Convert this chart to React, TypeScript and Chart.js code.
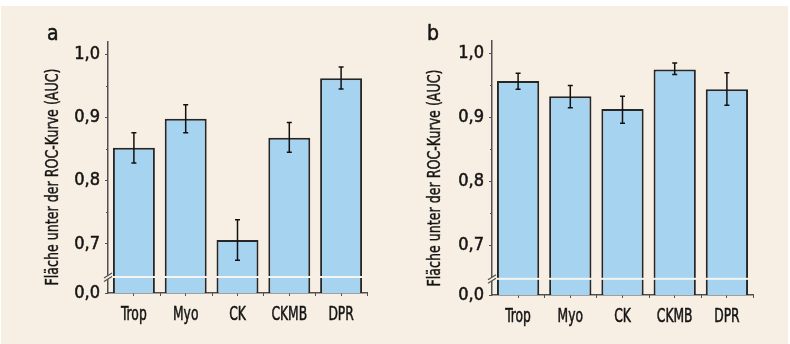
import React, { useEffect, useRef } from "react";
import { Chart, registerables } from "chart.js";

Chart.register(...registerables);

const categories = ["Trop", "Myo", "CK", "CKMB", "DPR"];
const aucA = [0.852, 0.898, 0.706, 0.868, 0.962];
const lowA = [0.828, 0.876, 0.674, 0.845, 0.945];
const highA = [0.876, 0.92, 0.738, 0.892, 0.98];
const aucB = [0.957, 0.933, 0.913, 0.975, 0.944];
const lowB = [0.944, 0.915, 0.891, 0.967, 0.919];
const highB = [0.969, 0.95, 0.933, 0.985, 0.97];
const majorTicks = [0.7, 0.8, 0.9, 1.0];
const minorTicks = [0.75, 0.85, 0.95];
const panelLetters = ["a", "b"];
const yTitle = "Fläche unter der ROC-Kurve (AUC)";
const zeroLabel = "0,0";

const Y_MIN = 0.6222;
const Y_MAX = 1.0195;
const BREAK_VALUE = 0.6475;

const BG = "#f8efe4";
const BAR = "#a6d3f0";
const INK = "#141414";
const AXIS = "#505050";
const FONT = '"DejaVu Sans Condensed", "Liberation Sans Narrow", sans-serif';

type Panel = {
  letter: string;
  values: number[];
  low: number[];
  high: number[];
  left: number;
  width: number;
  padTop: number;
  padRight: number;
  yWidth: number;
  xHeight: number;
  titleX: number;
  titleY: number;
  letterX: number;
  letterY: number;
};

const panels: Panel[] = [
  { letter: panelLetters[0], values: aucA, low: lowA, high: highA, left: 0, width: 395, padTop: 42, padRight: 28, yWidth: 108, xHeight: 51, titleX: 54, titleY: 177, letterX: 47, letterY: 40 },
  { letter: panelLetters[1], values: aucB, low: lowB, high: highB, left: 395, width: 395, padTop: 41, padRight: 37, yWidth: 97, xHeight: 49, titleX: 40.5, titleY: 178, letterX: 32, letterY: 40 },
];

const fmt = (v: number) => v.toFixed(1).replace(".", ",");

function heavyText(ctx: CanvasRenderingContext2D, t: string, x: number, y: number) {
  ctx.fillText(t, x, y);
  ctx.strokeText(t, x, y);
}

const overlay = {
  id: "overlay",
  afterDatasetsDraw(chart: any, _a: any, opts: any) {
    const ctx = chart.ctx as CanvasRenderingContext2D;
    const y = chart.scales.y;
    const meta = chart.getDatasetMeta(0);
    ctx.save();
    // axis-break gaps across bars
    const by = y.getPixelForValue(BREAK_VALUE);
    ctx.fillStyle = "#f4f4f0";
    meta.data.forEach((bar: any) => {
      const w = bar.width;
      ctx.fillRect(bar.x - w / 2 - 1, by - 1, w + 2, 2);
    });
    // error bars
    ctx.strokeStyle = "#111";
    ctx.lineWidth = 1.5;
    meta.data.forEach((bar: any, i: number) => {
      const yl = y.getPixelForValue(opts.low[i]);
      const yh = y.getPixelForValue(opts.high[i]);
      const x = bar.x;
      ctx.beginPath();
      ctx.moveTo(x, yl);
      ctx.lineTo(x, yh);
      ctx.moveTo(x - 2.5, yl);
      ctx.lineTo(x + 2.5, yl);
      ctx.moveTo(x - 2.5, yh);
      ctx.lineTo(x + 2.5, yh);
      ctx.stroke();
    });
    ctx.restore();
  },
  afterDraw(chart: any, _a: any, opts: any) {
    const ctx = chart.ctx as CanvasRenderingContext2D;
    const y = chart.scales.y;
    const xs = chart.scales.x;
    const area = chart.chartArea;
    ctx.save();
    // minor y ticks
    ctx.strokeStyle = AXIS;
    ctx.lineWidth = 1;
    minorTicks.forEach((v) => {
      const py = Math.round(y.getPixelForValue(v)) + 0.5;
      ctx.beginPath();
      ctx.moveTo(area.left - 2, py);
      ctx.lineTo(area.left, py);
      ctx.stroke();
    });
    // x ticks between categories
    const n = categories.length;
    for (let i = 0; i < n; i++) {
      const a = xs.getPixelForValue(i);
      const b = i < n - 1 ? xs.getPixelForValue(i + 1) : area.right + (area.right - a);
      const mx = Math.round((a + b) / 2) + 0.5;
      if (mx > area.right + 1) continue;
      ctx.beginPath();
      ctx.moveTo(mx, area.bottom);
      ctx.lineTo(mx, area.bottom + 3);
      ctx.stroke();
    }
    // x category labels (condensed)
    ctx.fillStyle = INK;
    ctx.strokeStyle = INK;
    ctx.lineWidth = 0.5;
    ctx.font = `19px ${FONT}`;
    ctx.textAlign = "center";
    ctx.textBaseline = "alphabetic";
    categories.forEach((c, i) => {
      const px = xs.getPixelForValue(i);
      ctx.save();
      ctx.translate(px, area.bottom + 27);
      ctx.scale(0.72, 1);
      heavyText(ctx, c, 0, 0);
      ctx.restore();
    });
    // axis break on y axis
    const by = y.getPixelForValue(BREAK_VALUE);
    const ax = area.left;
    ctx.fillStyle = BG;
    ctx.beginPath();
    ctx.moveTo(ax - 4, by + 1);
    ctx.lineTo(ax + 4, by - 4);
    ctx.lineTo(ax + 4, by - 0.5);
    ctx.lineTo(ax - 4, by + 4.5);
    ctx.closePath();
    ctx.fill();
    ctx.strokeStyle = AXIS;
    ctx.lineWidth = 1.2;
    ctx.beginPath();
    ctx.moveTo(ax - 4, by + 1);
    ctx.lineTo(ax + 4, by - 4);
    ctx.moveTo(ax - 4, by + 4.5);
    ctx.lineTo(ax + 4, by - 0.5);
    ctx.stroke();
    // y title (condensed, fitted to the axis length)
    ctx.fillStyle = INK;
    ctx.strokeStyle = INK;
    ctx.lineWidth = 0.4;
    ctx.font = `17px ${FONT}`;
    const w = ctx.measureText(yTitle).width;
    const sx = 217 / w;
    ctx.translate(opts.titleX, opts.titleY);
    ctx.rotate(-Math.PI / 2);
    ctx.scale(sx, 1);
    ctx.textAlign = "center";
    ctx.textBaseline = "middle";
    heavyText(ctx, yTitle, 0, 0);
    ctx.setTransform(1, 0, 0, 1, 0, 0);
    // panel letter
    ctx.font = `21px ${FONT}`;
    ctx.lineWidth = 0.5;
    ctx.textAlign = "left";
    ctx.textBaseline = "alphabetic";
    heavyText(ctx, opts.letter, opts.letterX, opts.letterY);
    ctx.restore();
  },
};

function PanelChart({ p }: { p: Panel }) {
  const ref = useRef<HTMLCanvasElement>(null);
  useEffect(() => {
    if (!ref.current) return;
    const chart = new Chart(ref.current, {
      type: "bar",
      data: {
        labels: categories,
        datasets: [
          {
            data: p.values,
            backgroundColor: BAR,
            borderColor: "#262626",
            borderWidth: 2,
            borderSkipped: "start",
            barPercentage: 0.81,
            categoryPercentage: 1,
          },
        ],
      },
      options: {
        responsive: false,
        animation: false,
        devicePixelRatio: 1,
        layout: { padding: { left: 0, top: p.padTop, right: p.padRight, bottom: 0 } },
        plugins: {
          legend: { display: false },
          tooltip: { enabled: false },
          overlay: { low: p.low, high: p.high, titleX: p.titleX, titleY: p.titleY, letter: p.letter, letterX: p.letterX, letterY: p.letterY },
        } as any,
        scales: {
          x: {
            type: "category",
            offset: true,
            grid: { display: true, drawOnChartArea: false, offset: false, tickLength: 3, color: AXIS, lineWidth: 1 },
            border: { display: true, color: AXIS, width: 1.5 },
            ticks: { display: false },
            afterFit: (s: any) => {
              s.height = p.xHeight;
            },
          },
          y: {
            type: "linear",
            min: Y_MIN,
            max: Y_MAX,
            afterBuildTicks: (s: any) => {
              s.ticks = [Y_MIN, ...majorTicks].map((v) => ({ value: v }));
            },
            grid: { display: true, drawOnChartArea: false, tickLength: 3, color: AXIS, lineWidth: 1 },
            border: { display: true, color: AXIS, width: 1.5 },
            ticks: {
              color: INK,
              textStrokeColor: INK,
              textStrokeWidth: 0.5,
              font: { family: FONT, size: 18 },
              padding: 5,
              callback: (v: any) => (Math.abs(v - Y_MIN) < 1e-6 ? zeroLabel : fmt(Number(v))),
            },
            afterFit: (s: any) => {
              s.width = p.yWidth;
            },
          },
        },
      },
      plugins: [overlay as any],
    });
    return () => chart.destroy();
  }, [p]);
  return (
    <canvas
      ref={ref}
      width={p.width}
      height={344}
      style={{ position: "absolute", left: p.left, top: 0, width: p.width, height: 344 }}
    />
  );
}

export default function App() {
  return (
    <div style={{ position: "fixed", left: 0, top: 0, width: 790, height: 344, background: "#ffffff", overflow: "hidden" }}>
      <div style={{ position: "absolute", left: 1, top: 6, width: 787, height: 338, background: BG }} />
      {panels.map((p) => (
        <PanelChart key={p.letter} p={p} />
      ))}
    </div>
  );
}
